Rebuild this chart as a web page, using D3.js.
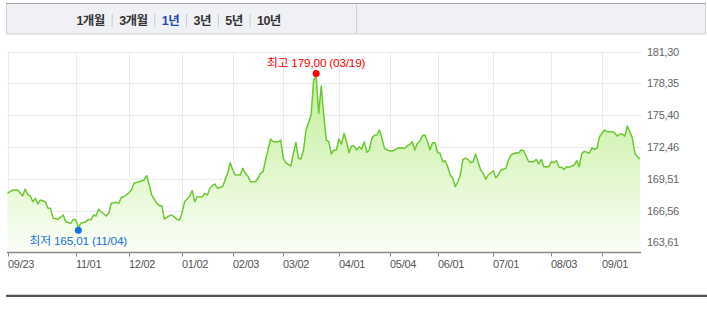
<!DOCTYPE html>
<html>
<head>
<meta charset="utf-8">
<script src="https://cdn.jsdelivr.net/npm/d3@7"></script>
<style>
  body { margin: 0; background: #fff; }
  svg { display: block; font-family: "Liberation Sans", "Noto Sans CJK KR", sans-serif; }
</style>
</head>
<body>
<div id="chart"></div>
<script>
// Period tabs
const tabLabels = ['1개월', '3개월', '1년', '3년', '5년', '10년'];
const activeTab = '1년';

// Trading-day index of each point and its price
const days = [0, 1, 2, 4, 6, 7, 8, 9, 10, 11, 12, 13, 15, 16, 17, 18, 20, 22, 23, 25, 26, 27, 28, 29, 31, 32, 33, 34, 35, 36, 37, 39, 40, 41, 43, 44, 45, 46, 48, 49,
  50, 52, 54, 55, 56, 57, 59, 60, 61, 62, 64, 65, 67, 68, 69, 70, 72, 73, 74, 75, 77, 78, 79, 80, 81, 82, 83, 85, 86, 87, 88, 89, 90, 92, 93, 94, 95, 96, 98, 99,
  100, 101, 102, 104, 105, 107, 108, 109, 110, 112, 113, 114, 115, 116, 117, 118, 120, 121, 122, 123, 124, 125, 126, 127, 128, 129, 130, 131, 132, 133, 134, 135, 136, 137, 138, 139,
  140, 141, 142, 143, 144, 145, 146, 147, 148, 149, 151, 152, 153, 154, 156, 157, 158, 159, 160, 161, 162, 163, 164, 165, 166, 167, 168, 169, 170, 171, 172, 173, 174, 175, 176, 177, 178, 179,
  180, 181, 182, 183, 184, 185, 186, 187, 188, 189, 190, 192, 193, 194, 195, 197, 198, 199, 201, 202, 203, 204, 206, 207, 208, 209, 210, 211, 212, 213, 214, 215, 216, 217, 218, 219,
  220, 221, 222, 224, 225, 226, 227, 228, 230, 231, 232, 233, 234, 235, 236, 237, 239, 240, 241, 242, 243, 244, 245, 246, 247, 248, 249, 250];
const closes = [168.16, 168.31, 168.46, 168.46, 167.91, 168.56, 168.06, 167.91, 167.38, 167.69, 167.16, 167.54, 167.38, 166.77, 166.77, 165.84, 165.74, 166.14, 165.52, 165.37, 165.74, 165.68, 165.01, 165.37, 165.52, 165.74, 165.68, 166.14, 166.05, 166.67, 166.45, 166.05, 166.30, 167.23, 167.32, 167.23, 167.79, 167.84, 168.21, 168.46,
  169.09, 169.23, 169.39, 169.79, 168.93, 168.00, 167.23, 167.01, 167.01, 165.77, 166.08, 166.14, 165.74, 165.68, 166.36, 167.38, 167.91, 168.40, 167.38, 167.84, 167.84, 168.16, 168.00, 168.62, 168.86, 169.02, 168.62, 168.77, 169.39, 170.01, 171.00, 170.32, 169.86, 169.86, 170.48, 170.01, 169.76, 169.23, 169.23, 169.55,
  170.01, 170.16, 171.25, 173.20, 172.95, 172.95, 173.10, 171.41, 171.00, 170.69, 171.87, 172.89, 171.41, 171.34, 172.18, 174.03, 175.42, 178.67, 179.00, 175.58, 178.11, 175.42, 173.10, 172.95, 171.80, 172.18, 172.18, 173.20, 172.73, 173.73, 172.95, 171.92, 172.55, 172.55, 172.18, 172.48,
  172.24, 172.95, 171.96, 172.18, 173.26, 173.54, 173.57, 174.03, 173.26, 172.33, 172.08, 172.08, 172.18, 172.33, 172.39, 172.30, 172.55, 172.70, 172.95, 172.18, 172.80, 173.01, 173.50, 173.57, 172.95, 172.18, 172.85, 172.85, 171.92, 171.87, 171.09, 171.18, 170.63, 169.86, 169.55, 168.77, 169.23, 169.86,
  171.31, 171.41, 171.31, 171.00, 171.09, 171.78, 171.09, 170.32, 170.01, 169.46, 169.86, 170.25, 169.60, 169.86, 170.32, 170.48, 171.25, 171.71, 171.92, 171.87, 172.18, 172.11, 171.09, 171.09, 171.09, 171.31, 170.88, 171.31, 170.63, 170.63, 170.63, 171.09, 171.00, 171.18, 170.57, 170.57,
  170.38, 170.63, 170.57, 170.78, 171.18, 170.63, 171.87, 172.05, 171.87, 172.39, 172.24, 172.33, 173.41, 173.73, 174.03, 173.87, 173.87, 173.78, 173.47, 173.66, 173.66, 173.47, 174.40, 173.87, 173.26, 171.87, 171.55, 171.31];

// X axis ticks (trading-day index -> label)
const xTickDays = [0, 27, 48, 69, 89, 109, 131, 151, 170, 192, 215, 235];
const xTickLabels = ['09/23', '11/01', '12/02', '01/02', '02/03', '03/02', '04/01', '05/04', '06/01', '07/01', '08/03', '09/01'];
const yTicks = [163.61, 166.56, 169.51, 172.46, 175.40, 178.35, 181.30];
const highDate = '03/19';
const lowDate = '11/04';

const WIDTH = 707;
const HEIGHT = 315;
const PLOT = { left: 7, right: 641, top: 51.7, bottom: 252 };

const svg = d3.select('#chart')
  .append('svg')
  .attr('width', WIDTH)
  .attr('height', HEIGHT);

const fmt = v => d3.format('.2f')(v).replace('.', ',');

// Tab bar
svg.append('rect')
  .attr('x', 6.5).attr('y', 3.5)
  .attr('width', 699).attr('height', 30.5)
  .attr('fill', '#f0f1f5')
  .attr('stroke', '#cfd0d4');
svg.append('line')
  .attr('x1', 6).attr('x2', 706).attr('y1', 3.5).attr('y2', 3.5)
  .attr('stroke', '#a3a5ab');
svg.append('line')
  .attr('x1', 356.5).attr('x2', 356.5).attr('y1', 4).attr('y2', 34)
  .attr('stroke', '#cfd0d4');

let cursor = 76.5;
tabLabels.forEach((label, i) => {
  const t = svg.append('text')
    .attr('x', cursor)
    .attr('y', 24.5)
    .attr('font-size', '12.5px')
    .attr('font-weight', 'bold')
    .attr('letter-spacing', '-0.6px')
    .attr('fill', label === activeTab ? '#2648a8' : '#333')
    .text(label);
  cursor += t.node().getComputedTextLength() + 7;
  if (i < tabLabels.length - 1) {
    svg.append('line')
      .attr('x1', cursor + 0.5).attr('x2', cursor + 0.5)
      .attr('y1', 14).attr('y2', 27)
      .attr('stroke', '#c8c9cd');
    cursor += 7.5;
  }
});

// Scales
const x = d3.scaleLinear().domain([0, 250]).range([7.5, 640]);
const y = d3.scaleLinear().domain([163.61, 181.30]).range([242.3, 51.7]);

// Gridlines
svg.append('g')
  .selectAll('line')
  .data(yTicks)
  .join('line')
  .attr('x1', PLOT.left).attr('x2', PLOT.right)
  .attr('y1', d => Math.round(y(d)) + 0.5).attr('y2', d => Math.round(y(d)) + 0.5)
  .attr('stroke', '#ebebeb');

svg.append('g')
  .selectAll('line')
  .data(xTickDays)
  .join('line')
  .attr('x1', d => Math.round(x(d)) + 0.5).attr('x2', d => Math.round(x(d)) + 0.5)
  .attr('y1', PLOT.top).attr('y2', PLOT.bottom)
  .attr('stroke', '#ebebeb');

// Area + line
const points = days.map((d, i) => ({ day: d, value: closes[i] }));

const defs = svg.append('defs');
const grad = defs.append('linearGradient')
  .attr('id', 'fillGrad')
  .attr('gradientUnits', 'userSpaceOnUse')
  .attr('x1', 0).attr('x2', 0)
  .attr('y1', y(d3.max(closes))).attr('y2', PLOT.bottom);
grad.append('stop').attr('offset', 0).attr('stop-color', '#c2ee98');
grad.append('stop').attr('offset', 1).attr('stop-color', '#fbfef8');

svg.append('path')
  .datum(points)
  .attr('fill', 'url(#fillGrad)')
  .attr('d', d3.area()
    .x(d => x(d.day))
    .y0(PLOT.bottom)
    .y1(d => y(d.value)));

svg.append('path')
  .datum(points)
  .attr('fill', 'none')
  .attr('stroke', '#6cc832')
  .attr('stroke-width', 1.5)
  .attr('stroke-linejoin', 'round')
  .attr('d', d3.line()
    .x(d => x(d.day))
    .y(d => y(d.value)));

// X axis
const xAxis = svg.append('g')
  .attr('transform', `translate(0,${PLOT.bottom})`);
xAxis.append('line')
  .attr('x1', PLOT.left).attr('x2', PLOT.right)
  .attr('y1', 0.5).attr('y2', 0.5)
  .attr('stroke', '#8a8a8a')
  .attr('stroke-width', 1.3);
xAxis.selectAll('.tick')
  .data(xTickDays)
  .join('line')
  .attr('x1', d => Math.round(x(d)) + 0.5).attr('x2', d => Math.round(x(d)) + 0.5)
  .attr('y1', 0).attr('y2', 4.5)
  .attr('stroke', '#8a8a8a');
xAxis.selectAll('text')
  .data(xTickDays)
  .join('text')
  .attr('x', d => Math.round(x(d)))
  .attr('y', 16)
  .attr('font-size', '11px')
  .attr('letter-spacing', '-0.3px')
  .attr('fill', '#555')
  .text((d, i) => xTickLabels[i]);

// Y labels on the right
svg.append('g')
  .selectAll('text')
  .data(yTicks)
  .join('text')
  .attr('x', 647)
  .attr('y', d => y(d) + 4)
  .attr('font-size', '11px')
  .attr('letter-spacing', '-0.3px')
  .attr('fill', '#666')
  .text(d => fmt(d));

// High / low markers
const hi = points[d3.maxIndex(closes)];
const lo = points[d3.minIndex(closes)];

svg.append('circle')
  .attr('cx', x(hi.day)).attr('cy', y(hi.value) - 3)
  .attr('r', 3.5).attr('fill', '#ff0000');
svg.append('text')
  .attr('x', x(hi.day)).attr('y', y(hi.value) - 9.5)
  .attr('text-anchor', 'middle')
  .attr('font-size', '11.8px')
  .attr('letter-spacing', '-0.2px')
  .attr('fill', '#ff0000')
  .text(`최고 ${fmt(hi.value)} (${highDate})`);

svg.append('circle')
  .attr('cx', x(lo.day)).attr('cy', y(lo.value) + 3)
  .attr('r', 3.5).attr('fill', '#1a6fdc');
svg.append('text')
  .attr('x', x(lo.day)).attr('y', y(lo.value) + 18)
  .attr('text-anchor', 'middle')
  .attr('font-size', '11.8px')
  .attr('letter-spacing', '-0.2px')
  .attr('fill', '#1a6fdc')
  .text(`최저 ${fmt(lo.value)} (${lowDate})`);

// Bottom rule
svg.append('line')
  .attr('x1', 6).attr('x2', 707)
  .attr('y1', 295.8).attr('y2', 295.8)
  .attr('stroke', '#555')
  .attr('stroke-width', 2.2);
</script>
</body>
</html>
